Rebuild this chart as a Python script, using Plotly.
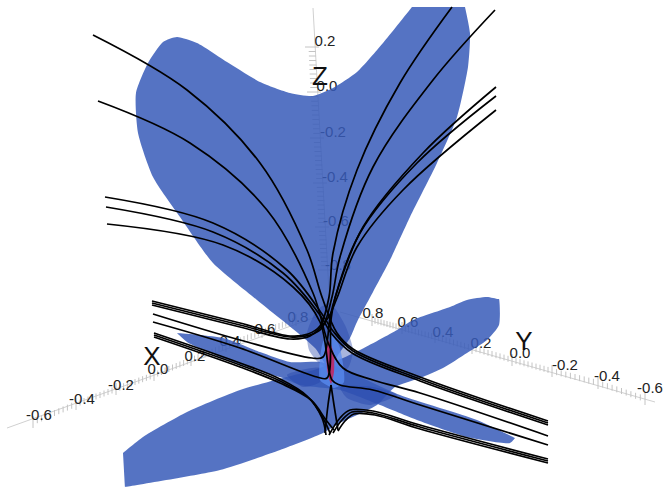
import plotly.graph_objects as go

# ---------- projected outlines of the surfaces ----------
wing_top_x = [257,213,180,153,138,136,148,163,177,197,227,260,290,313,333,357,383,412,412,465,465,470,468,457,437,410,390,373,357,350,338,330,315]
wing_top_y = [300,263,217,177,133,93,63,42,37,43,62,82,93,96,88,72,43,7,7,7,7,33,67,117,163,217,260,292,322,338,355,370,348]
wing_cross_x = [123,143,187,240,283,320,360,397,413,450,467,487,498,499,499,487,467,443,420,395,377,340,323,280,220,125,125,123]
wing_cross_y = [453,437,412,390,378,368,350,330,320,307,300,297,299,299,325,340,353,368,378,387,405,423,433,450,470,487,487,453]
band_x = [177,223,260,290,320,340,400,477,515,515,510,467,417,380,340,300,283,262,220,187,177]
band_y = [333,338,352,362,362,368,395,420,438,438,443,437,420,405,390,385,378,372,357,342,333]
core_x = [307,317,330,345,353,348,335,318,309]
core_y = [333,310,303,325,350,368,372,362,350]
patch_left_x = [287,320,320,303]
patch_left_y = [375,368,382,387]
patch_right_x = [340,373,397,370,347]
patch_right_y = [387,387,395,405,398]
light_x = [323,331,339,344,334,320]
light_y = [342,335,345,382,388,380]
sheet_x = [328,326.5,327.5,331,334,334,331]
sheet_y = [340,358,372,384,372,355,345]

# ---------- field lines ----------
lines = {
    "L1": ([93,187,260,307,322,337,353,420,548], [35,90,163,250,297,333,349,377,421]),
    "L2": ([98,190,267,313,329,343,373,420,548], [101,143,210,293,345,368,380,393,436]),
    "L3": ([105,213,287,322,333,353,420,548], [197,223,270,314,331,351,379,423]),
    "L4": ([106,213,283,320,331,352,420,548], [207,232,273,315,333,353,381,425]),
    "L5": ([107,223,293,320,332,340,373,420,548], [224,245,287,322,380,385,390,405,445]),
    "R1": ([452,400,357,333,329,320,308,290,240,152], [7,83,170,253,297,326,334,336,323,301]),
    "R2": ([495,433,373,340,332,322,310,290,240,152], [10,80,167,257,297,328,335,337,325,303]),
    "R3": ([496,423,363,335,330,323,312,240,153], [87,153,227,298,318,357,358,340,314]),
    "R4": ([496,417,360,335,331,327,317,240,153], [96,163,233,298,320,378,377,348,322]),
    "R5": ([496,403,357,337,328,310,290,240,152], [110,190,247,298,318,336,339,327,305]),
    "B1": ([548,420,373,350,340,329], [459,425,411,410,418,435]),
    "B2": ([548,420,373,352,342,333], [461,427,413,412,420,433]),
    "B3": ([548,420,375,354,345,338], [463,429,415,414,421,431]),
    "C1": ([154,240,280,307,322,326], [333,363,379,396,418,435]),
    "C2": ([154,240,280,309,324,330], [335,365,381,398,420,433]),
    "C3": ([154,240,280,311,326,334], [337,367,383,400,420,430]),
    "D1": ([331,328,325], [385,405,433]),
    "D2": ([331,334,338], [385,405,430]),
}

# ---------- axes ----------
x_tick_labels = ["-0.6","-0.4","-0.2","0.0","0.2","0.4","0.6","0.8"]
x_label_x = [39,82,121,158,195,230,265,298]
x_label_y = [416,400,386,370,357,342,330,318]
x_major_x = [33,76,116,154,191,226,262,296]
x_major_y = [422,404,389,375,360,346,332,320]
x_axis_x = [7,327]
x_axis_y = [428,313]

y_tick_labels = ["0.8","0.6","0.4","0.2","0.0","-0.2","-0.4","-0.6"]
y_label_x = [373,408,443,481,520,565,607,650]
y_label_y = [314,323,333,344,354,366,377,389]
y_major_x = [372,402,435,472,512,552,598,645]
y_major_y = [320,328,337,348,360,371,383,399]
y_axis_x = [340,655]
y_axis_y = [312,402]

z_tick_labels = ["0.2","0.0","-0.2","-0.4","-0.6","-0.8"]
z_label_x = [325,327,333,335,336,338]
z_label_y = [42,87,133,178,222,266]
z_major_x = [312,314,317,320,322,325]
z_major_y = [47,92,138,183,227,270]
z_axis_x = [313,330]
z_axis_y = [8,310]

titles = ["X","Y","Z"]
title_x = [152,524,320]
title_y = [358,343,78]

BLUE = "rgba(55,91,185,0.85)"

def ticks(major_x, major_y, dx, dy, big):
    """tick marks: one at each labelled position and small ones between them"""
    tx, ty = [], []
    pts = [(mx, my, big) for mx, my in zip(major_x, major_y)]
    for (x0, y0), (x1, y1) in zip(zip(major_x, major_y), zip(major_x[1:], major_y[1:])):
        for k in range(1, 10):
            f = k / 10
            pts.append((x0 + (x1 - x0) * f, y0 + (y1 - y0) * f, big * 0.5))
    for px, py, s in pts:
        tx += [px - dx * s, px + dx * s, None]
        ty += [py - dy * s, py + dy * s, None]
    return tx, ty

fig = go.Figure()

def axis(name, ax, ay, mx, my, dx, dy, big):
    tx, ty = ticks(mx, my, dx, dy, big)
    fig.add_trace(go.Scatter(x=ax, y=ay, mode="lines", line=dict(color="#d0d0d0", width=1), name=name, hoverinfo="skip"))
    fig.add_trace(go.Scatter(x=tx, y=ty, mode="lines", line=dict(color="#c4c4c4", width=1), name=name + " ticks", hoverinfo="skip"))

axis("x axis", x_axis_x, x_axis_y, x_major_x, x_major_y, 0, 1, 6)
axis("y axis", y_axis_x, y_axis_y, y_major_x, y_major_y, 0, 1, 6)
axis("z axis", z_axis_x, z_axis_y, z_major_x, z_major_y, 1, 0, 7)

for labs, lx, ly in [(x_tick_labels, x_label_x, x_label_y), (y_tick_labels, y_label_x, y_label_y), (z_tick_labels, z_label_x, z_label_y)]:
    fig.add_trace(go.Scatter(x=lx, y=ly, text=labs, mode="text", textposition="middle center", cliponaxis=False,
                             textfont=dict(family="Liberation Sans", size=15, color="#222"), hoverinfo="skip"))

def poly(px, py, color):
    fig.add_trace(go.Scatter(x=px + px[:1], y=py + py[:1], mode="lines", fill="toself", fillcolor=color,
                             line=dict(width=0, color=color, shape="spline", smoothing=0.6),
                             hoverinfo="skip"))

poly(wing_top_x, wing_top_y, BLUE)
poly(wing_cross_x, wing_cross_y, BLUE)
poly(band_x, band_y, BLUE)
poly(core_x, core_y, "rgba(40,70,170,0.40)")
poly(patch_left_x, patch_left_y, "rgba(40,70,170,0.45)")
poly(patch_right_x, patch_right_y, "rgba(40,70,170,0.45)")
poly(light_x, light_y, "rgba(90,140,240,0.75)")
poly(sheet_x, sheet_y, "#b5306f")

for name, (lx, ly) in lines.items():
    fig.add_trace(go.Scatter(x=lx, y=ly, mode="lines", name=name, hoverinfo="skip",
                             line=dict(color="black", width=1.7, shape="spline", smoothing=1.0)))

fig.add_trace(go.Scatter(x=title_x, y=title_y, text=titles, mode="text", textposition="middle center",
                         textfont=dict(family="Liberation Sans", size=26, color="#111"), hoverinfo="skip"))

fig.update_layout(width=663, height=490, margin=dict(l=0, r=0, t=0, b=0), showlegend=False,
                  paper_bgcolor="white", plot_bgcolor="white",
                  xaxis=dict(range=[0, 663], visible=False, fixedrange=True),
                  yaxis=dict(range=[490, 0], visible=False, fixedrange=True))
fig.write_html("out.html", config=dict(displayModeBar=False),
               post_script="document.body.style.margin='0';document.body.style.overflow='hidden';")
